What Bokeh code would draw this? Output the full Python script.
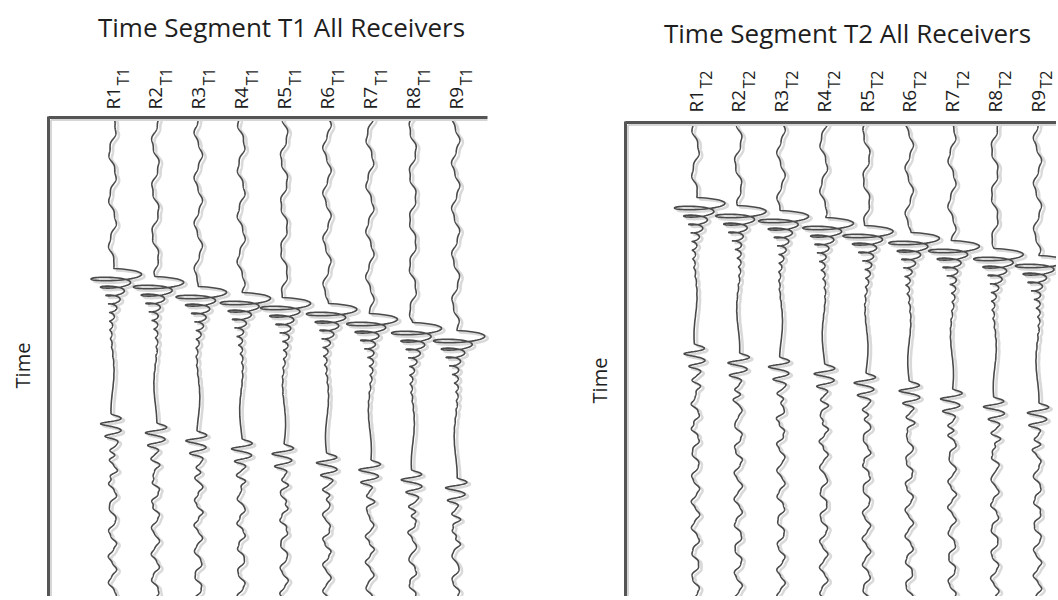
import numpy as np
from bokeh.plotting import figure
from bokeh.models import Range1d, FixedTicker, LinearAxis, Label
from bokeh.layouts import row
from bokeh.embed import file_html
from bokeh.resources import INLINE

# ---------------- data ----------------
receivers = [1, 2, 3, 4, 5, 6, 7, 8, 9]
rec_labels = ["R1", "R2", "R3", "R4", "R5", "R6", "R7", "R8", "R9"]
seg_names = ["T1", "T2"]
titles = ["Time Segment T1 All Receivers", "Time Segment T2 All Receivers"]
# arrival times (time units) of the first (direct) event and the second event
first_t1 = [151, 159, 169, 175, 180, 186, 196, 205, 213]
second_t1 = [296, 305, 313, 321, 326, 335, 342, 352, 360]
first_t2 = [75, 83, 88, 95, 103, 110, 118, 126, 133]
second_t2 = [221, 230, 234, 241, 250, 258, 266, 274, 280]

FONT = "Open Sans"
LINE = "#4a4a4a"
SHADOW = "#cfcfcf"
AXIS = "#555555"
TXT = "#1e1e1e"
H = 596


def sig(z, w):
    return 1.0 / (1.0 + np.exp(-z / w))


def wiggle(t1, t2, tmax, k):
    """schematic seismic trace: horizontal displacement (px) and time"""
    t = np.arange(0.0, tmax, 0.2)
    p1, p2, p3 = 1.37 * k, 2.11 * k + 0.5, 0.83 * k + 1.1
    pre = 3.4 * np.sin(2 * np.pi * t / 46 + p1) + 0.8 * np.sin(2 * np.pi * t / 15 + p2)
    mid = 1.5 * np.sin(2 * np.pi * t / 80 + p2)
    post = 3.6 * np.sin(2 * np.pi * t / 25 + p3) + 0.6 * np.sin(2 * np.pi * t / 9 + p1)
    w_pre = 1 - sig(t - t1 + 2, 3)
    w_post = sig(t - t2 - 40, 8)
    w_mid = np.clip(1 - w_pre - w_post, 0, 1)
    x = pre * w_pre + mid * w_mid + post * w_post
    y = t.copy()
    # first event: looping burst
    u = np.clip(t - t1, 0, None)
    m = t >= t1
    P = 9.0
    x = x + np.where(m, 32 * np.exp(-u / 18) * np.sin(2 * np.pi * u / P), 0)
    y = y + np.where(m, 4.3 * np.exp(-u / 35) * (1 - np.cos(2 * np.pi * u / P)), 0)
    # second event: decaying wiggle
    u2 = np.clip(t - t2, 0, None)
    m2 = t >= t2
    P2 = 13.0
    x = x + np.where(m2, 20 * (1 - np.exp(-u2 / 4)) * np.exp(-u2 / 20) * np.sin(2 * np.pi * u2 / P2), 0)
    y = y + np.where(m2, 1.0 * np.exp(-u2 / 20) * (1 - np.cos(2 * np.pi * u2 / P2)), 0)
    x = x + np.where(m2, 3.5 * np.exp(-u2 / 35) * np.sin(2 * np.pi * u2 / 8.0) * sig(u2 - 18, 3), 0)
    return x, y


def panel(idx, firsts, seconds, width, spacing, x_first, axis_left, axis_right, top_pad,
          label_standoff, sub_standoff, title_x, title_base, time_label_y):
    """spacing: px per receiver; x_first: px from figure left to receiver 1;
    axis_left / axis_right: px from figure left to the frame lines;
    top_pad: px from figure top to time 0"""
    tmax = H - top_pad
    x_start = receivers[0] - x_first / spacing
    x_end = x_start + width / spacing
    xl = x_start + axis_left / spacing
    xr = x_start + axis_right / spacing
    p = figure(width=width, height=H, output_backend="svg", toolbar_location=None,
               title=None, x_range=Range1d(x_start, x_end),
               y_range=Range1d(tmax, -top_pad),
               min_border_left=0, min_border_right=0, min_border_top=0,
               min_border_bottom=0, x_axis_type=None, y_axis_type=None)
    p.outline_line_color = None
    p.grid.visible = False

    xs, ys, sx, sy = [], [], [], []
    for k, (r, a, b) in enumerate(zip(receivers, firsts, seconds)):
        dx, tt = wiggle(a, b, tmax, k + 3 * idx)
        xx = r + dx / spacing
        xs.append(xx)
        ys.append(tt)
        sx.append(xx + 3.0 / spacing)
        sy.append(tt + 2.0)
    p.multi_line(sx, sy, line_color=SHADOW, line_width=2.6, line_alpha=0.8)
    p.multi_line(xs, ys, line_color=LINE, line_width=1.6)

    # soft shadow along the frame lines
    p.segment(x0=[xl + 2.5 / spacing, xl + 2.5 / spacing], y0=[2.5, 2.5],
              x1=[xl + 2.5 / spacing, xr], y1=[tmax, 2.5],
              line_color="#d6d6d6", line_width=2)

    # receiver axis (top frame line)
    ax = LinearAxis(fixed_location=0, bounds=(xl, xr),
                    ticker=FixedTicker(ticks=receivers),
                    major_label_overrides={r: lab for r, lab in zip(receivers, rec_labels)},
                    major_label_orientation=np.pi / 2,
                    major_label_text_font=FONT, major_label_text_font_size="19px",
                    major_label_text_color=TXT, major_label_standoff=label_standoff,
                    major_tick_line_color=None, minor_tick_line_color=None,
                    major_tick_out=0, major_tick_in=0,
                    axis_line_width=3, axis_line_color=AXIS)
    p.add_layout(ax, "above")

    off = 0.25
    sub = LinearAxis(fixed_location=0, bounds=(xl, xr),
                     ticker=FixedTicker(ticks=[r + off for r in receivers]),
                     major_label_overrides={r + off: seg_names[idx] for r in receivers},
                     major_label_orientation=np.pi / 2,
                     major_label_text_font=FONT, major_label_text_font_size="16px",
                     major_label_text_color=TXT, major_label_standoff=sub_standoff,
                     axis_line_color=None, major_tick_line_color=None,
                     minor_tick_line_color=None, major_tick_out=0, major_tick_in=0)
    p.add_layout(sub, "above")

    # time axis (left frame line)
    ay = LinearAxis(fixed_location=xl, bounds=(-1.5, tmax),
                    ticker=FixedTicker(ticks=[]),
                    major_tick_line_color=None, minor_tick_line_color=None,
                    major_tick_out=0, major_tick_in=0,
                    axis_line_width=3, axis_line_color=AXIS)
    p.add_layout(ay, "left")
    p.add_layout(Label(x=xl - 26 / spacing, y=time_label_y - top_pad, text="Time",
                       angle=np.pi / 2, text_font=FONT, text_font_size="20px",
                       text_color=TXT, text_align="center", text_baseline="middle"))

    tx = x_start + title_x / spacing
    p.add_layout(Label(x=tx, y=title_base - top_pad, text=titles[idx],
                       text_font=FONT, text_font_size="26px", text_color=TXT,
                       text_align="center", text_baseline="alphabetic"))
    return p


# left panel occupies page x 0..530, right panel 530..1056
left = panel(0, first_t1, second_t1, 530, 42.9, 112, 48, 487, 117,
             8, 32, 281, 26, 365)
right = panel(1, first_t2, second_t2, 526, 42.75, 165, 95, 526, 122,
              10, 34, 317, 32, 380)

layout = row(left, right, spacing=0)
open("out.html", "w").write(file_html(layout, INLINE))
